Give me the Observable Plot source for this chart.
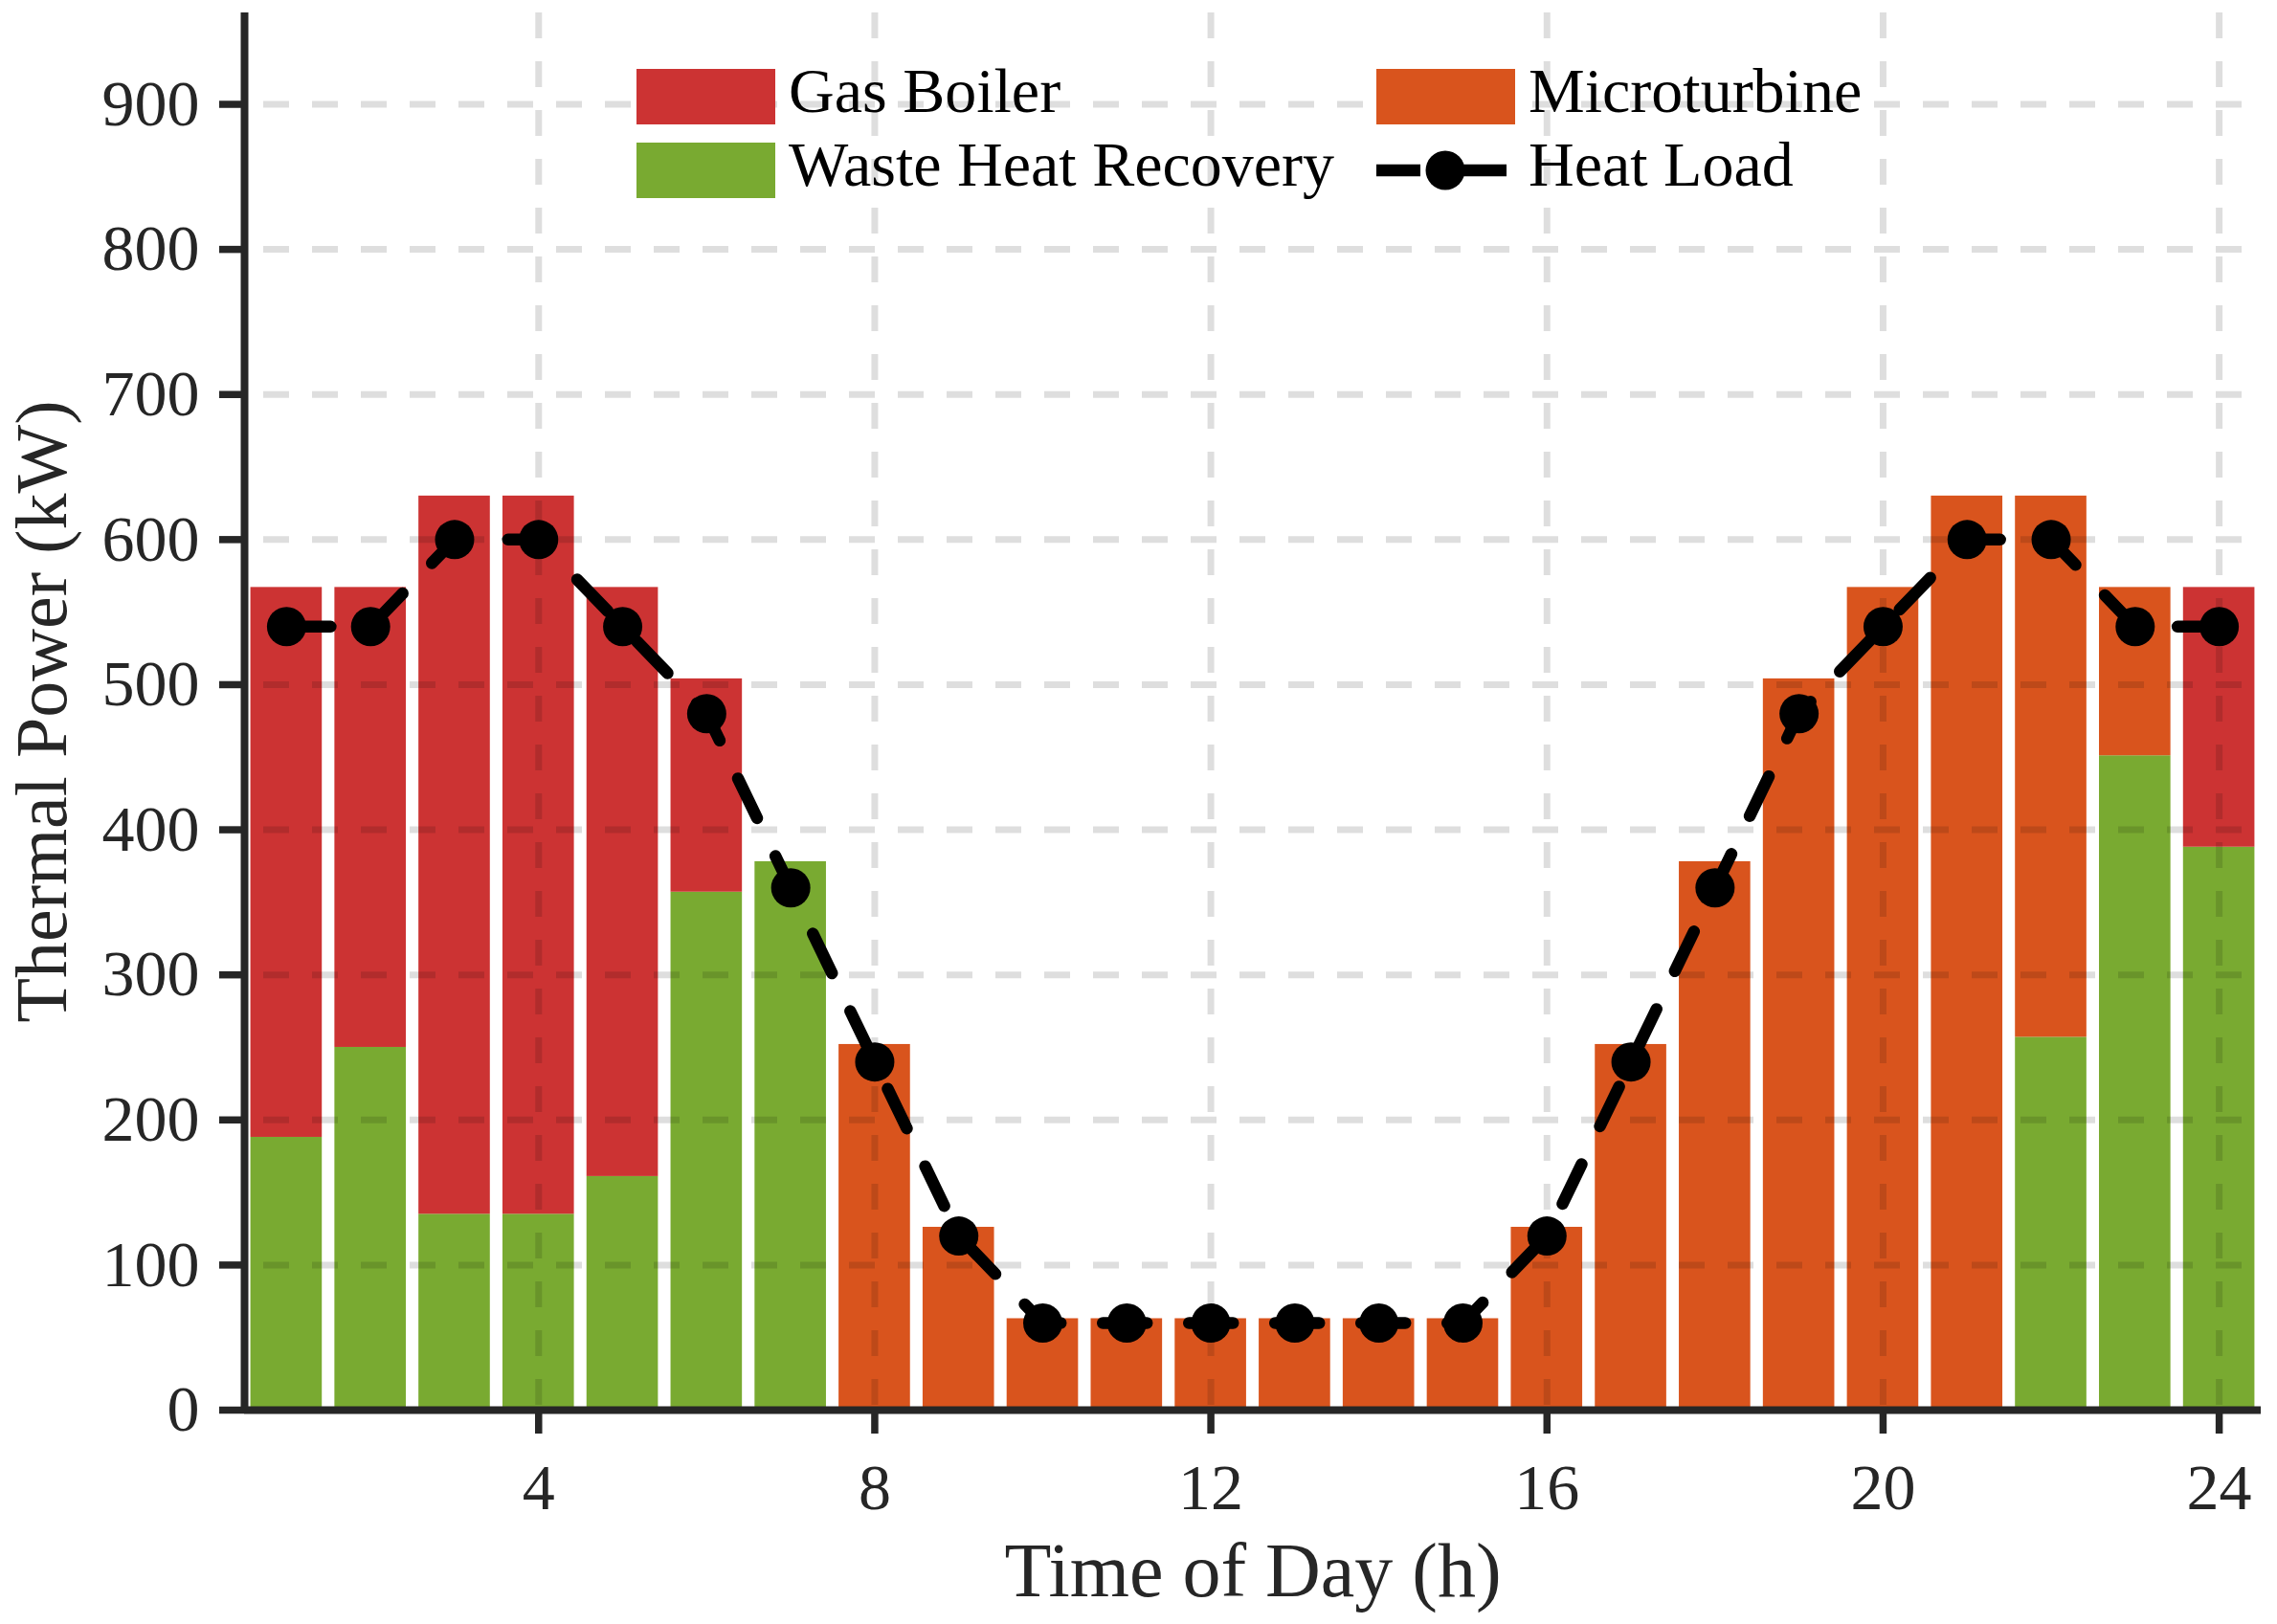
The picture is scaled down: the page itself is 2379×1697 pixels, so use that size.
<!DOCTYPE html>
<html>
<head>
<meta charset="utf-8">
<script src="https://cdn.jsdelivr.net/npm/d3@7"></script>
<script src="https://cdn.jsdelivr.net/npm/@observablehq/plot@0.6"></script>
<style>
  html, body { margin: 0; padding: 0; background: #fff; overflow: hidden; }
  #fig { position: relative; width: 2379px; height: 1697px; }
  #legend { position: absolute; left: 0; top: 0; pointer-events: none; }
</style>
</head>
<body>
<div id="fig"></div>
<script>
// ---- data ----
const hours = [1,2,3,4,5,6,7,8,9,10,11,12,13,14,15,16,17,18,19,20,21,22,23,24];
const seriesNames = ["Waste Heat Recovery", "Microturbine", "Gas Boiler"];
const wasteHeat    = [188,250,135,135,161,357,378,0,0,0,0,0,0,0,0,0,0,0,0,0,0,257,451,388];
const microturbine = [0,0,0,0,0,0,0,252,126,63,63,63,63,63,63,126,252,378,504,567,630,373,116,0];
const gasBoiler    = [379,317,495,495,406,147,0,0,0,0,0,0,0,0,0,0,0,0,0,0,0,0,0,179];
const heatLoad     = [540,540,600,600,540,480,360,240,120,60,60,60,60,60,60,120,240,360,480,540,600,600,540,540];
const xTicks = [4,8,12,16,20,24];
const yTicks = [0,100,200,300,400,500,600,700,800,900];
const colors = {"Gas Boiler": "#cc3333", "Microturbine": "#d9541d", "Waste Heat Recovery": "#79aa31"};
const legendItems = [
  {label: "Gas Boiler", kind: "box"},
  {label: "Microturbine", kind: "box"},
  {label: "Waste Heat Recovery", kind: "box"},
  {label: "Heat Load", kind: "line"}
];

// ---- tables built from the arrays ----
const seriesValues = {"Waste Heat Recovery": wasteHeat, "Microturbine": microturbine, "Gas Boiler": gasBoiler};
const rows = [];
for (const s of seriesNames) hours.forEach((h, i) => rows.push({hour: h, series: s, value: seriesValues[s][i]}));
const loadRows = hours.map((h, i) => ({hour: h, load: heatLoad[i]}));

const HALF = 0.425;
const INK = "#262626";
const DASH = "46,44";
const FONT = "'Liberation Serif', 'Times New Roman', serif";

const chart = Plot.plot({
  width: 2379,
  height: 1697,
  marginLeft: 255,
  marginRight: 17,
  marginTop: 13,
  marginBottom: 224,
  style: {fontFamily: FONT, color: INK, background: "white", overflow: "visible"},
  x: {type: "linear", domain: [0.5, 24.5]},
  y: {domain: [0, 963]},
  color: {domain: Object.keys(colors), range: Object.values(colors)},
  marks: [
    Plot.rectY(rows, Plot.stackY({
      x1: d => d.hour - HALF,
      x2: d => d.hour + HALF,
      y: "value",
      fill: "series",
      order: seriesNames
    })),
    Plot.gridY({ticks: yTicks.slice(1), stroke: "#000", strokeOpacity: 0.13, strokeWidth: 7, strokeDasharray: "27,24", strokeDashoffset: -20}),
    Plot.gridX({ticks: xTicks, stroke: "#000", strokeOpacity: 0.13, strokeWidth: 7, strokeDasharray: "27,24"}),
    Plot.line(loadRows, {x: "hour", y: "load", stroke: "#000", strokeWidth: 12.5, strokeDasharray: DASH}),
    Plot.dot(loadRows, {x: "hour", y: "load", r: 20.5, fill: "#000", stroke: "none"}),
    Plot.axisY({ticks: yTicks, tickSize: 26, tickPadding: 21, tickFormat: d => String(d), fontSize: 68, strokeWidth: 7.5, label: null}),
    Plot.axisX({ticks: xTicks, tickSize: 25, tickPadding: 30, tickFormat: d => String(d), fontSize: 68, strokeWidth: 7.5, label: null}),
    Plot.ruleX([0.5], {stroke: INK, strokeWidth: 8}),
    Plot.ruleY([0], {stroke: INK, strokeWidth: 8}),
    Plot.text(["Time of Day (h)"], {frameAnchor: "bottom", textAnchor: "middle", lineAnchor: "bottom", dy: 194, fontSize: 80, fill: INK}),
    Plot.text(["Thermal Power (kW)"], {frameAnchor: "left", textAnchor: "middle", lineAnchor: "bottom", rotate: -90, dx: -187, fontSize: 76, fill: INK})
  ]
});
document.getElementById("fig").appendChild(chart);

// ---- legend overlay (inside the axes, top centre, no frame) ----
const lg = d3.select("#fig").append("svg")
  .attr("id", "legend")
  .attr("width", 2379).attr("height", 1697);
const cols = [665, 1438];
const rowsY = [101, 178];
legendItems.forEach((it, i) => {
  const cx = cols[i % 2], cy = rowsY[Math.floor(i / 2)];
  if (it.kind === "box") {
    lg.append("rect").attr("x", cx).attr("y", cy - 29).attr("width", 145).attr("height", 58).attr("fill", colors[it.label]);
  } else {
    lg.append("line").attr("x1", cx).attr("x2", cx + 138).attr("y1", cy).attr("y2", cy)
      .attr("stroke", "#000").attr("stroke-width", 12.5).attr("stroke-dasharray", DASH);
    lg.append("circle").attr("cx", cx + 72).attr("cy", cy).attr("r", 20.5).attr("fill", "#000");
  }
  lg.append("text").attr("x", cx + 159).attr("y", cy + 16)
    .attr("font-family", FONT)
    .attr("font-size", 66).attr("fill", "#000").text(it.label);
});
</script>
</body>
</html>
